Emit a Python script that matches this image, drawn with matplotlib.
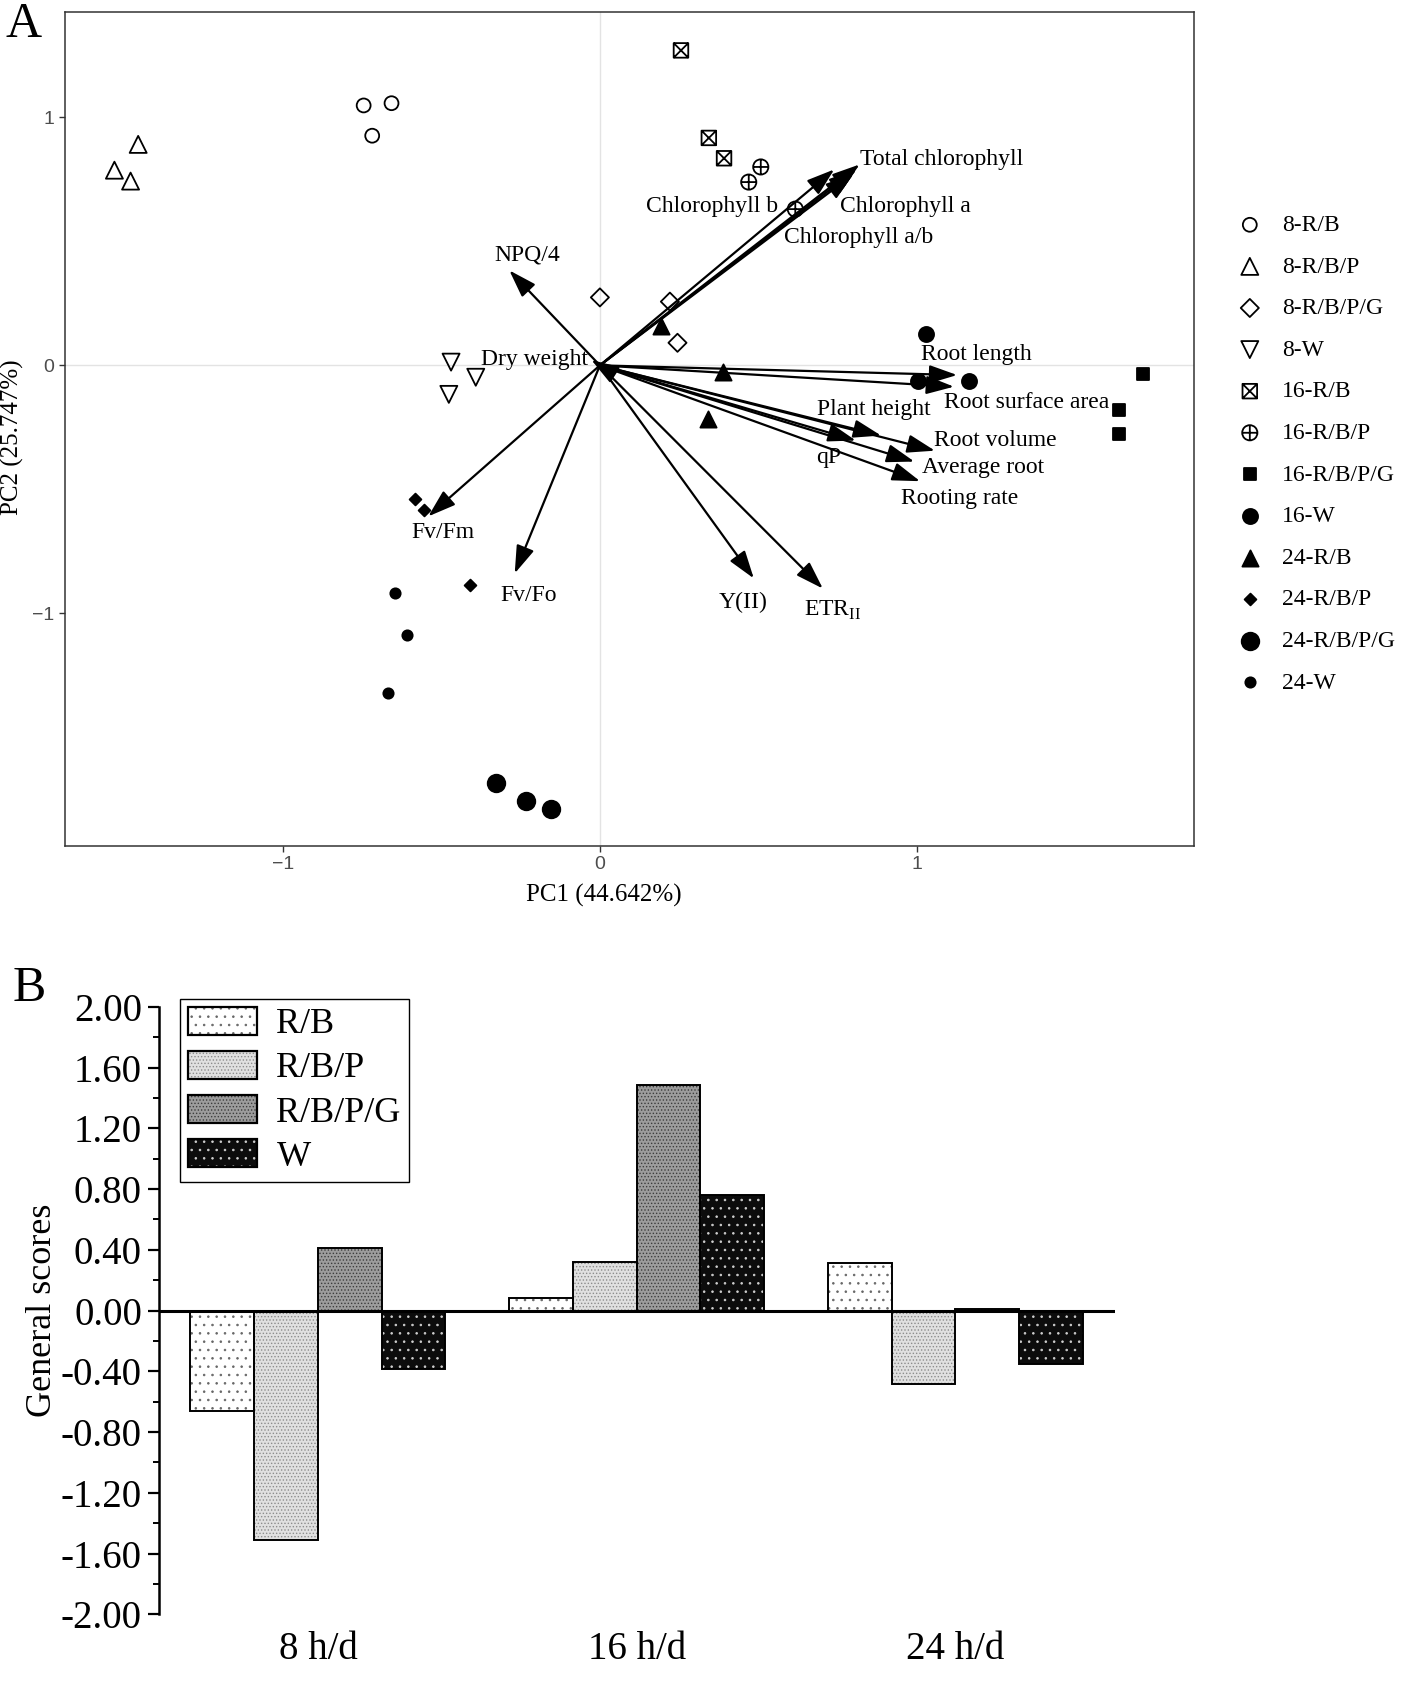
import numpy as np
import matplotlib
matplotlib.use('Agg')
import matplotlib.pyplot as plt
from matplotlib.path import Path
from matplotlib.patches import Patch
from matplotlib.ticker import FormatStrFormatter, AutoMinorLocator, FixedLocator

plt.rcParams['font.family'] = ['Liberation Serif', 'DejaVu Serif']
plt.rcParams['mathtext.fontset'] = 'custom'
plt.rcParams['mathtext.rm'] = 'Liberation Serif'
plt.rcParams['hatch.linewidth'] = 0.6

# ---------------- Panel A data ----------------
group_names = ['8-R/B', '8-R/B/P', '8-R/B/P/G', '8-W',
               '16-R/B', '16-R/B/P', '16-R/B/P/G', '16-W',
               '24-R/B', '24-R/B/P', '24-R/B/P/G', '24-W']
score_pc1 = [[-0.746, -0.658, -0.719],
             [-1.458, -1.533, -1.482],
             [0.000, 0.221, 0.245],
             [-0.470, -0.392, -0.477],
             [0.256, 0.344, 0.392],
             [0.508, 0.470, 0.617],
             [1.714, 1.639, 1.639],
             [1.029, 1.005, 1.165],
             [0.194, 0.388, 0.341],
             [-0.583, -0.555, -0.409],
             [-0.327, -0.232, -0.153],
             [-0.647, -0.610, -0.668]]
score_pc2 = [[1.048, 1.057, 0.926],
             [0.891, 0.787, 0.743],
             [0.274, 0.257, 0.091],
             [0.013, -0.048, -0.117],
             [1.270, 0.917, 0.835],
             [0.800, 0.739, 0.630],
             [-0.035, -0.178, -0.278],
             [0.126, -0.065, -0.065],
             [0.157, -0.026, -0.217],
             [-0.539, -0.583, -0.887],
             [-1.683, -1.757, -1.787],
             [-0.917, -1.087, -1.322]]

var_names = ['Total chlorophyll', 'Chlorophyll b', 'Chlorophyll a', 'Chlorophyll a/b',
             'NPQ/4', 'Dry weight', 'Root length', 'Root surface area', 'Plant height',
             'Root volume', 'qP', 'Average root', 'Rooting rate', 'Fv/Fm', 'Fv/Fo',
             'Y(II)', r'ETR$_{\mathrm{II}}$']
load_pc1 = [0.82, 0.74, 0.81, 0.80, -0.286, -0.027, 1.128, 1.118, 0.888, 1.058,
            0.808, 0.993, 1.011, -0.542, -0.269, 0.486, 0.704]
load_pc2 = [0.81, 0.79, 0.79, 0.77, 0.383, 0.022, -0.039, -0.086, -0.283, -0.344,
            -0.303, -0.388, -0.467, -0.609, -0.839, -0.859, -0.900]

# label anchor positions (layout)
label_x = [0.821, 0.354, 0.964, 0.818, -0.228, -0.208, 1.189, 1.346, 0.865, 1.250,
           0.722, 1.210, 1.135, -0.497, -0.225, 0.453, 0.736]
label_y = [0.830, 0.639, 0.639, 0.517, 0.443, 0.022, 0.043, -0.148, -0.178, -0.304,
           -0.370, -0.413, -0.535, -0.674, -0.926, -0.957, -0.987]
label_ha = ['left'] + ['center'] * 16

# ---------------- Panel B data ----------------
periods = ['8 h/d', '16 h/d', '24 h/d']
treatments = ['R/B', 'R/B/P', 'R/B/P/G', 'W']
scores_RB = [-0.663, 0.085, 0.310]
scores_RBP = [-1.510, 0.318, -0.483]
scores_RBPG = [0.410, 1.486, 0.008]
scores_W = [-0.386, 0.759, -0.355]
ytick_vals = [-2.0, -1.6, -1.2, -0.8, -0.4, 0.0, 0.4, 0.8, 1.2, 1.6, 2.0]

# ---------------- custom markers ----------------
M, L, C = Path.MOVETO, Path.LINETO, Path.CLOSEPOLY
box_x = Path([(-1, -1), (1, -1), (1, 1), (-1, 1), (-1, -1),
              (-1, -1), (1, 1), (-1, 1), (1, -1)],
             [M, L, L, L, C, M, L, M, L])
circ_plus = Path.make_compound_path(
    Path.unit_circle(),
    Path([(-1, 0), (1, 0), (0, -1), (0, 1)], [M, L, M, L]))

marker_styles = [
    dict(marker='o', s=100, fc='none'),
    dict(marker='^', s=150, fc='none'),
    dict(marker='D', s=85, fc='none'),
    dict(marker='v', s=150, fc='none'),
    dict(marker=box_x, s=110, fc='none'),
    dict(marker=circ_plus, s=120, fc='none'),
    dict(marker='s', s=86, fc='black'),
    dict(marker='o', s=118, fc='black'),
    dict(marker='^', s=136, fc='black'),
    dict(marker='D', s=36, fc='black'),
    dict(marker='o', s=160, fc='black'),
    dict(marker='o', s=55, fc='black'),
]

W, H = 1418, 1692
fig = plt.figure(figsize=(W / 100, H / 100), dpi=100)

# ================= Panel A =================
axA = fig.add_axes([64.7 / W, 1 - 846 / H, (1194 - 64.7) / W, (846 - 11.7) / H])
axA.set_xlim(-1.690, 1.876)
axA.set_ylim(-1.938, 1.426)
axA.axhline(0, color='#e3e3e3', lw=1.0, zorder=0)
axA.axvline(0, color='#e3e3e3', lw=1.0, zorder=0)

handles = []
for name, xs, ys, st in zip(group_names, score_pc1, score_pc2, marker_styles):
    h = axA.scatter(xs, ys, marker=st['marker'], s=st['s'], facecolors=st['fc'],
                    edgecolors='black', linewidths=1.3, label=name, zorder=3)
    handles.append(h)

for name, lx, ly, tx, ty, ha in zip(var_names, load_pc1, load_pc2, label_x, label_y, label_ha):
    axA.annotate('', xy=(lx, ly), xytext=(0, 0),
                 arrowprops=dict(arrowstyle='-|>,head_length=0.85,head_width=0.28',
                                 mutation_scale=20, lw=1.6, color='black',
                                 shrinkA=0, shrinkB=0), zorder=4)
    axA.text(tx, ty, name, ha=ha, va='center', fontsize=17, zorder=5)

for sp in axA.spines.values():
    sp.set_color('#333333')
    sp.set_linewidth(1.1)
axA.set_xticks([-1, 0, 1])
axA.set_yticks([-1, 0, 1])
axA.set_xticklabels(['\u22121', '0', '1'])
axA.set_yticklabels(['\u22121', '0', '1'])
axA.tick_params(length=4, width=1, color='#333333', labelcolor='#4d4d4d', labelsize=14)
for lab in axA.get_xticklabels() + axA.get_yticklabels():
    lab.set_family(['Liberation Sans', 'DejaVu Sans'])
axA.set_xlabel('PC1 (44.642%)', fontsize=18)
axA.set_ylabel('PC2 (25.747%)', fontsize=18)
axA.xaxis.set_label_coords(0.4776, -0.045)
axA.yaxis.set_label_coords(-0.036, 0.49)

fig.legend(handles=handles, loc='center left',
           bbox_to_anchor=(1238 / W, 1 - 454 / H), frameon=False,
           fontsize=17, handlelength=1.0, handletextpad=0.85, labelspacing=0.85,
           borderpad=0, borderaxespad=0, scatterpoints=1)

fig.text(24 / W, 1 - 37 / H, 'A', fontsize=36, ha='center', va='baseline')

# ================= Panel B =================
axB = fig.add_axes([158.6 / W, 1 - 1614.3 / H, (1114.7 - 158.6) / W, (1614.3 - 1006.8) / H])
axB.set_xlim(-0.5, 2.5)
axB.set_ylim(-2.0, 2.0)

bar_series = [scores_RB, scores_RBP, scores_RBPG, scores_W]
bar_face = ['#ffffff', '#e0e0e0', '#9c9c9c', '#0c0c0c']
bar_hatchc = ['#666666', '#8c8c8c', '#3c3c3c', '#d0d0d0']
bar_hatch = ['..', '.....', '.....', '..']
xpos = np.arange(len(periods))
bw = 0.2
leg_handles = []
for i, vals in enumerate(bar_series):
    xs = xpos + (i - 1.5) * bw
    axB.bar(xs, vals, bw, color=bar_face[i], edgecolor=bar_hatchc[i],
            hatch=bar_hatch[i], linewidth=0, zorder=2)
    axB.bar(xs, vals, bw, color='none', edgecolor='black', linewidth=1.4, zorder=3)
    leg_handles.append((Patch(facecolor=bar_face[i], edgecolor=bar_hatchc[i],
                              hatch=bar_hatch[i], linewidth=0),
                        Patch(facecolor='none', edgecolor='black', linewidth=1.6)))

axB.axhline(0, color='black', lw=2.2, zorder=4)
for k in ['top', 'right', 'bottom']:
    axB.spines[k].set_visible(False)
axB.spines['left'].set_linewidth(1.8)
axB.yaxis.set_major_locator(FixedLocator(ytick_vals))
axB.yaxis.set_minor_locator(AutoMinorLocator(2))
axB.set_yticklabels([f'{v:.2f}' for v in ytick_vals])
axB.tick_params(axis='y', which='major', length=8, width=1.6, labelsize=28, pad=4)
axB.tick_params(axis='y', which='minor', length=4.5, width=1.4)
axB.set_xticks(xpos)
axB.set_xticklabels(periods)
axB.tick_params(axis='x', length=0, labelsize=28, pad=12)
axB.set_ylabel('General scores', fontsize=26)
axB.yaxis.set_label_coords(-0.104, 0.5)

legB = axB.legend(leg_handles, treatments, loc='upper left',
                  bbox_to_anchor=(180 / W, 1 - 999 / H), bbox_transform=fig.transFigure,
                  fontsize=26, handlelength=1.9, handleheight=0.8, handletextpad=0.55,
                  labelspacing=0.27, borderpad=0.22, borderaxespad=0, fancybox=False,
                  edgecolor='black', framealpha=1)
legB.get_frame().set_linewidth(1.0)

fig.text(29 / W, 1 - 1001 / H, 'B', fontsize=36, ha='center', va='baseline')

fig.savefig('out.png', dpi=100)
